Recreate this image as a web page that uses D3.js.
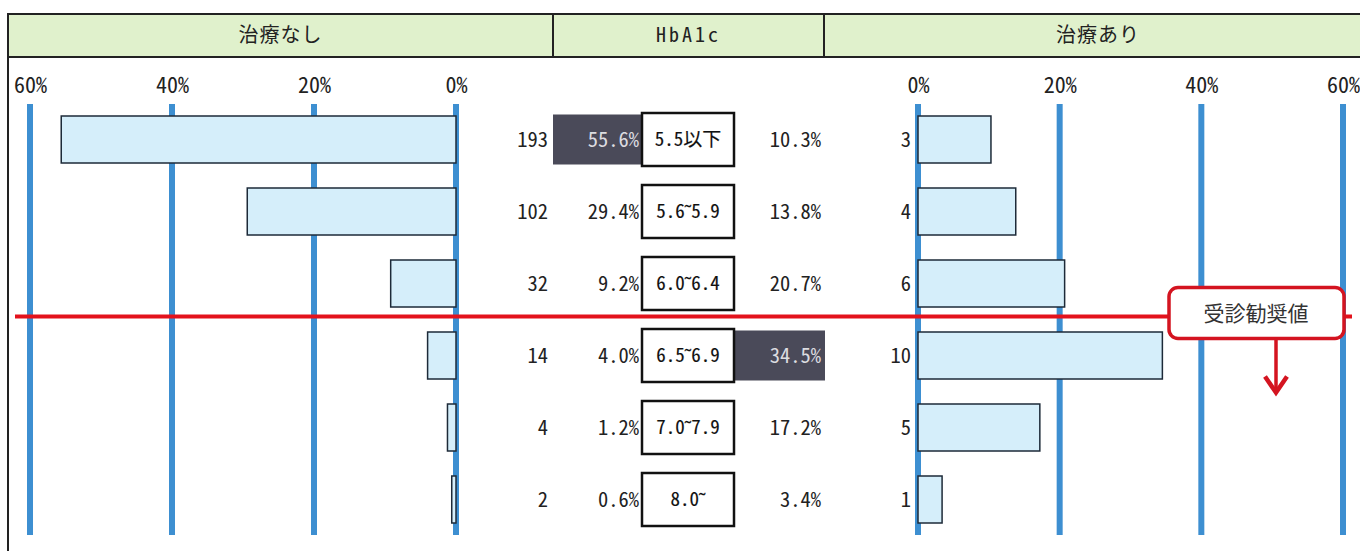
<!DOCTYPE html>
<html>
<head>
<meta charset="utf-8">
<script src="https://cdn.jsdelivr.net/npm/d3@7"></script>
<style>
  body { margin: 0; background: #fff; }
  svg { display: block; }
  .num { font-family: "Noto Sans Mono CJK JP", "Liberation Mono", monospace; font-size: 20.5px; fill: #222; }
  .jp { font-family: "Noto Sans CJK JP", sans-serif; fill: #222; }
  .cat { font-family: "Noto Sans Mono CJK JP", "Noto Sans CJK JP", sans-serif; font-size: 19px; fill: #111; }
</style>
</head>
<body>
<script>
// data
const categories = ["5.5以下", "5.6˜5.9", "6.0˜6.4", "6.5˜6.9", "7.0˜7.9", "8.0˜"];
const noTreatCount = [193, 102, 32, 14, 4, 2];
const noTreatPct = [55.6, 29.4, 9.2, 4.0, 1.2, 0.6];
const treatCount = [3, 4, 6, 10, 5, 1];
const treatPct = [10.3, 13.8, 20.7, 34.5, 17.2, 3.4];
const headers = ["治療なし", "HbA1c", "治療あり"];
const tickValues = [0, 20, 40, 60];
const thresholdCategory = "6.5˜6.9";
const thresholdLabel = "受診勧奨値";

const width = 1360, height = 551;
const gridTop = 104, gridBottom = 535;

const svg = d3.select("body").append("svg")
    .attr("width", width)
    .attr("height", height);

svg.append("rect").attr("width", width).attr("height", height).attr("fill", "#fff");

// scales
const yScale = d3.scaleBand()
    .domain(categories)
    .range([103.5, 535.5]);

const xLeft = d3.scaleLinear().domain([0, 60]).range([456, 30]);
const xRight = d3.scaleLinear().domain([0, 60]).range([918, 1343]);

// header band
const headerX = [8, 553, 824, 1372];
const head = svg.append("g");
head.selectAll("rect")
    .data(headers)
    .join("rect")
    .attr("x", (d, i) => headerX[i])
    .attr("y", 14)
    .attr("width", (d, i) => headerX[i + 1] - headerX[i])
    .attr("height", 43)
    .attr("fill", "#e0f1cc")
    .attr("stroke", "#222")
    .attr("stroke-width", 2);
head.selectAll("text")
    .data(headers)
    .join("text")
    .attr("class", (d, i) => i == 1 ? "num" : "jp")
    .attr("x", (d, i) => (headerX[i] + headerX[i + 1]) / 2)
    .attr("y", 35)
    .attr("dy", "0.35em")
    .attr("text-anchor", "middle")
    .style("font-size", "20px")
    .style("letter-spacing", (d, i) => i == 1 ? "3px" : "1px")
    .text(d => d);

// outer frame left edge
svg.append("line")
    .attr("x1", 8).attr("x2", 8)
    .attr("y1", 14).attr("y2", height)
    .attr("stroke", "#222").attr("stroke-width", 2);

// axes (labels only) + blue gridlines
function addAxis(scale) {
    svg.append("g")
        .attr("transform", "translate(0,93)")
        .call(d3.axisTop(scale).tickValues(tickValues).tickSize(0).tickPadding(0).tickFormat(d => d + "%"))
        .call(g => g.select(".domain").remove())
        .call(g => g.selectAll("text")
            .attr("class", "num")
            .attr("fill", "#222")
            .style("font-size", "22px"));

    svg.append("g")
        .selectAll("line")
        .data(tickValues)
        .join("line")
        .attr("x1", d => scale(d)).attr("x2", d => scale(d))
        .attr("y1", gridTop).attr("y2", gridBottom)
        .attr("stroke", "#3d8fd1")
        .attr("stroke-width", 6);
}
addAxis(xLeft);
addAxis(xRight);

const barH = 47;
const boxH = 53;
const rows = categories.map((c, i) => ({
    cat: c,
    nCount: noTreatCount[i], nPct: noTreatPct[i],
    tCount: treatCount[i], tPct: treatPct[i]
}));
const cy = d => yScale(d.cat) + yScale.bandwidth() / 2;

// bars
svg.append("g")
    .selectAll("rect")
    .data(rows)
    .join("rect")
    .attr("x", d => xLeft(d.nPct))
    .attr("y", d => cy(d) - barH / 2)
    .attr("width", d => xLeft(0) - xLeft(d.nPct))
    .attr("height", barH)
    .attr("fill", "#d5eefa")
    .attr("stroke", "#1d2a38")
    .attr("stroke-width", 1.5);

svg.append("g")
    .selectAll("rect")
    .data(rows)
    .join("rect")
    .attr("x", xRight(0))
    .attr("y", d => cy(d) - barH / 2)
    .attr("width", d => xRight(d.tPct) - xRight(0))
    .attr("height", barH)
    .attr("fill", "#d5eefa")
    .attr("stroke", "#1d2a38")
    .attr("stroke-width", 1.5);

// highlight the largest share on each side
const maxN = d3.max(noTreatPct), maxT = d3.max(treatPct);
svg.append("g")
    .selectAll("rect")
    .data(rows.filter(d => d.nPct == maxN))
    .join("rect")
    .attr("x", 553).attr("y", d => cy(d) - 25)
    .attr("width", 89).attr("height", 50)
    .attr("fill", "#4a4a59");
svg.append("g")
    .selectAll("rect")
    .data(rows.filter(d => d.tPct == maxT))
    .join("rect")
    .attr("x", 735).attr("y", d => cy(d) - 25)
    .attr("width", 90).attr("height", 50)
    .attr("fill", "#4a4a59");

// category boxes
svg.append("g")
    .selectAll("rect")
    .data(rows)
    .join("rect")
    .attr("x", 642)
    .attr("y", d => cy(d) - boxH / 2)
    .attr("width", 92)
    .attr("height", boxH)
    .attr("fill", "#fff")
    .attr("stroke", "#111")
    .attr("stroke-width", 2.5);

svg.append("g")
    .selectAll("text")
    .data(rows)
    .join("text")
    .attr("class", "cat")
    .attr("x", 688)
    .attr("y", d => cy(d))
    .attr("dy", "0.35em")
    .attr("text-anchor", "middle")
    .style("stroke", "#111")
    .style("stroke-width", 0.15)
    .text(d => d.cat);

// numbers
const cols = [
    { x: 548, val: d => d.nCount, fmt: d => d, hl: () => false },
    { x: 639, val: d => d.nPct, fmt: d => d.toFixed(1) + "%", hl: d => d.nPct == maxN },
    { x: 821, val: d => d.tPct, fmt: d => d.toFixed(1) + "%", hl: d => d.tPct == maxT },
    { x: 911, val: d => d.tCount, fmt: d => d, hl: () => false }
];
cols.forEach(c => {
    svg.append("g")
        .selectAll("text")
        .data(rows)
        .join("text")
        .attr("class", "num")
        .attr("x", c.x)
        .attr("y", d => cy(d))
        .attr("dy", "0.35em")
        .attr("text-anchor", "end")
        .style("fill", d => c.hl(d) ? "#dcdce0" : "#222")
        .text(d => c.fmt(c.val(d)));
});

// threshold line + callout
const ty = yScale(thresholdCategory) - 3;
svg.append("line")
    .attr("x1", 15).attr("x2", 1352)
    .attr("y1", ty).attr("y2", ty)
    .attr("stroke", "#e3121c")
    .attr("stroke-width", 4);

const call = svg.append("g");
call.append("rect")
    .attr("x", 1169).attr("y", ty - 29)
    .attr("width", 175).attr("height", 51)
    .attr("rx", 9)
    .attr("fill", "#fff")
    .attr("stroke", "#d41420")
    .attr("stroke-width", 3.5);
call.append("text")
    .attr("class", "jp")
    .attr("x", 1256).attr("y", ty - 3)
    .attr("dy", "0.35em")
    .attr("text-anchor", "middle")
    .style("font-size", "21px")
    .style("fill", "#333")
    .text(thresholdLabel);
call.append("line")
    .attr("x1", 1276).attr("x2", 1276)
    .attr("y1", ty + 22).attr("y2", ty + 74)
    .attr("stroke", "#d41420").attr("stroke-width", 3.5);
call.append("path")
    .attr("d", `M1265,${ty + 60} L1276,${ty + 76} L1287,${ty + 60}`)
    .attr("fill", "none")
    .attr("stroke", "#d41420")
    .attr("stroke-width", 4.5)
    .attr("stroke-linejoin", "miter");
</script>
</body>
</html>
